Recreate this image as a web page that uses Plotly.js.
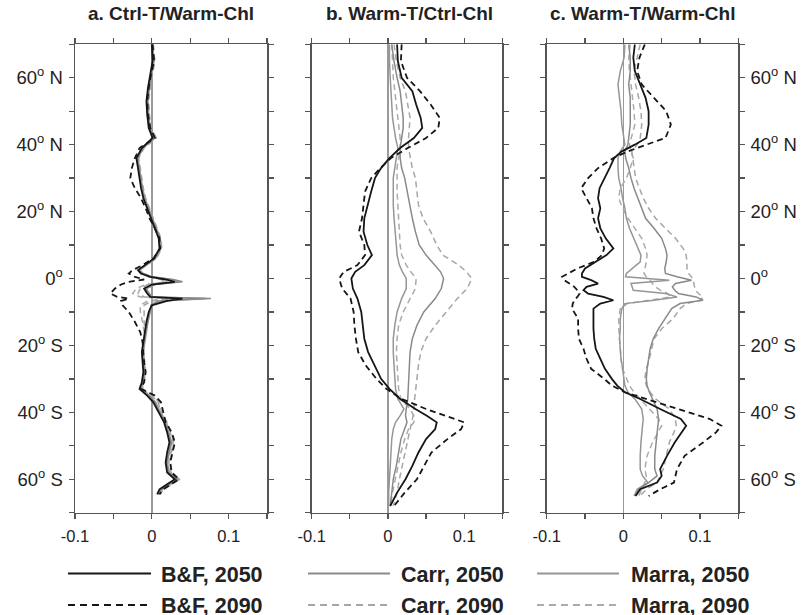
<!DOCTYPE html>
<html>
<head>
<meta charset="utf-8">
<script src="https://cdn.plot.ly/plotly-3.0.1.min.js"></script>
<style>html,body{margin:0;padding:0;background:#fff;}#chart{width:807px;height:615px;}</style>
</head>
<body>
<div id="chart"></div>
<script>
// ---------- DATA ----------
var panelTitles = ["a. Ctrl-T/Warm-Chl", "b. Warm-T/Ctrl-Chl", "c. Warm-T/Warm-Chl"];
var seriesNames = ["B&F, 2050", "B&F, 2090", "Carr, 2050", "Carr, 2090", "Marra, 2050", "Marra, 2090"];
var xTickVals = [-0.1, -0.05, 0, 0.05, 0.1, 0.15];
var xTickText = ["-0.1", "", "0", "", "0.1", ""];
var yTickVals = [-70, -60, -50, -40, -30, -20, -10, 0, 10, 20, 30, 40, 50, 60, 70];
var yTickText = ["", "60<sup>o</sup> S", "", "40<sup>o</sup> S", "", "20<sup>o</sup> S", "", "0<sup>o</sup>", "", "20<sup>o</sup> N", "", "40<sup>o</sup> N", "", "60<sup>o</sup> N", ""];

// Panel a: Ctrl-T/Warm-Chl
var latA = [70, 65, 61, 57, 53, 49, 45, 42, 39, 36, 33, 30, 27, 24, 21, 18, 15, 12, 9, 6, 4, 2.5, 1.5, 0.5, -0.3, -1, -1.8, -3, -4.5, -5.5, -6, -6.7, -8, -10, -13, -16, -19, -22, -25, -28, -31, -33, -35, -37, -40, -43, -46, -49, -52, -55, -58, -60, -61.5, -63, -64.5];
var aBF2050 = [0.000, 0.001, -0.002, -0.005, -0.007, -0.006, -0.004, 0.001, -0.013, -0.020, -0.018, -0.016, -0.014, -0.011, -0.006, -0.002, 0.004, 0.009, 0.010, 0.003, -0.009, -0.018, -0.014, -0.002, 0.018, 0.030, 0.000, -0.010, -0.006, -0.002, 0.040, 0.020, 0.000, -0.004, -0.007, -0.009, -0.011, -0.013, -0.012, -0.011, -0.013, -0.016, -0.006, 0.002, 0.009, 0.016, 0.020, 0.023, 0.020, 0.018, 0.020, 0.030, 0.020, 0.010, 0.007];
var aBF2090 = [0.001, 0.003, -0.001, -0.004, -0.006, -0.005, -0.002, 0.004, -0.016, -0.022, -0.026, -0.028, -0.022, -0.014, -0.008, -0.003, 0.004, 0.010, 0.011, 0.002, -0.012, -0.025, -0.030, -0.022, -0.010, -0.030, -0.040, -0.048, -0.054, -0.045, -0.030, -0.040, -0.038, -0.030, -0.022, -0.015, -0.012, -0.011, -0.010, -0.008, -0.010, -0.014, 0.004, 0.012, 0.015, 0.018, 0.026, 0.030, 0.027, 0.024, 0.026, 0.035, 0.025, 0.015, 0.010];
var aCarr2050 = [0.000, 0.002, -0.001, -0.004, -0.006, -0.005, -0.003, 0.003, -0.012, -0.019, -0.017, -0.015, -0.013, -0.010, -0.005, -0.001, 0.005, 0.010, 0.011, 0.004, -0.008, -0.017, -0.012, 0.000, 0.028, 0.040, 0.003, -0.008, -0.004, 0.000, 0.077, 0.008, -0.001, -0.003, -0.006, -0.008, -0.010, -0.012, -0.011, -0.010, -0.012, -0.015, -0.004, 0.004, 0.010, 0.017, 0.021, 0.025, 0.022, 0.019, 0.022, 0.033, 0.022, 0.012, 0.008];
var aCarr2090 = [0.001, 0.003, 0.000, -0.003, -0.005, -0.004, -0.002, 0.005, -0.011, -0.018, -0.016, -0.014, -0.012, -0.009, -0.004, 0.000, 0.006, 0.011, 0.012, 0.005, -0.008, -0.018, -0.015, -0.004, 0.015, 0.020, -0.005, -0.015, -0.018, -0.010, 0.030, 0.000, -0.010, -0.010, -0.010, -0.009, -0.011, -0.012, -0.010, -0.009, -0.011, -0.013, 0.000, 0.008, 0.012, 0.019, 0.024, 0.028, 0.025, 0.022, 0.025, 0.036, 0.025, 0.014, 0.010];
var aMarra2050 = [0.001, 0.003, 0.000, -0.003, -0.005, -0.004, -0.002, 0.004, -0.011, -0.018, -0.016, -0.014, -0.012, -0.009, -0.004, 0.000, 0.006, 0.011, 0.012, 0.005, -0.007, -0.016, -0.011, 0.001, 0.024, 0.036, 0.004, -0.007, -0.003, 0.001, 0.070, 0.012, 0.000, -0.002, -0.005, -0.007, -0.009, -0.011, -0.010, -0.009, -0.011, -0.014, -0.003, 0.005, 0.011, 0.018, 0.022, 0.026, 0.023, 0.020, 0.023, 0.034, 0.023, 0.013, 0.009];
var aMarra2090 = [0.002, 0.004, 0.001, -0.002, -0.004, -0.003, -0.001, 0.006, -0.010, -0.017, -0.015, -0.013, -0.011, -0.008, -0.003, 0.001, 0.007, 0.012, 0.013, 0.006, -0.007, -0.016, -0.013, -0.003, 0.012, 0.018, -0.008, -0.020, -0.025, -0.015, 0.020, -0.005, -0.015, -0.015, -0.012, -0.010, -0.010, -0.011, -0.009, -0.008, -0.010, -0.012, 0.002, 0.009, 0.013, 0.020, 0.025, 0.029, 0.026, 0.023, 0.026, 0.037, 0.026, 0.015, 0.011];

// Panel b: Warm-T/Ctrl-Chl
var latB = [70, 65, 60, 56, 52, 48, 45, 42, 39, 36, 33, 30, 26, 22, 18, 14, 10, 7, 4, 2, 0, -3, -6, -10, -14, -18, -22, -26, -30, -33, -36, -39, -41, -43, -45, -48, -52, -56, -60, -64, -68];
var bBF2050 = [0.012, 0.013, 0.018, 0.032, 0.037, 0.043, 0.045, 0.034, 0.016, 0.002, -0.009, -0.017, -0.022, -0.027, -0.031, -0.032, -0.027, -0.021, -0.031, -0.043, -0.048, -0.046, -0.040, -0.035, -0.033, -0.031, -0.026, -0.018, -0.009, 0.002, 0.016, 0.036, 0.051, 0.064, 0.062, 0.050, 0.040, 0.032, 0.023, 0.012, 0.003];
var bBF2090 = [0.018, 0.017, 0.025, 0.042, 0.056, 0.068, 0.066, 0.050, 0.026, 0.004, -0.010, -0.022, -0.030, -0.032, -0.034, -0.038, -0.031, -0.030, -0.040, -0.058, -0.064, -0.060, -0.049, -0.045, -0.044, -0.042, -0.039, -0.029, -0.015, -0.002, 0.018, 0.050, 0.075, 0.100, 0.096, 0.078, 0.057, 0.047, 0.038, 0.022, 0.008];
var bCarr2050 = [0.005, 0.008, 0.012, 0.016, 0.018, 0.020, 0.020, 0.018, 0.016, 0.016, 0.018, 0.022, 0.025, 0.029, 0.032, 0.036, 0.041, 0.050, 0.062, 0.069, 0.073, 0.070, 0.062, 0.047, 0.038, 0.032, 0.029, 0.028, 0.027, 0.027, 0.026, 0.024, 0.023, 0.025, 0.022, 0.017, 0.014, 0.011, 0.007, 0.005, 0.003];
var bCarr2090 = [0.008, 0.011, 0.016, 0.023, 0.026, 0.029, 0.028, 0.027, 0.027, 0.029, 0.032, 0.036, 0.038, 0.040, 0.046, 0.056, 0.064, 0.072, 0.093, 0.103, 0.110, 0.104, 0.091, 0.076, 0.062, 0.050, 0.043, 0.040, 0.038, 0.036, 0.035, 0.034, 0.033, 0.031, 0.029, 0.026, 0.022, 0.019, 0.015, 0.012, 0.007];
var bMarra2050 = [0.002, 0.002, 0.003, 0.004, 0.005, 0.006, 0.008, 0.010, 0.013, 0.011, 0.009, 0.007, 0.007, 0.007, 0.008, 0.010, 0.011, 0.012, 0.015, 0.019, 0.024, 0.024, 0.018, 0.012, 0.009, 0.007, 0.007, 0.008, 0.009, 0.010, 0.013, 0.021, 0.016, 0.010, 0.007, 0.005, 0.004, 0.003, 0.002, 0.001, 0.001];
var bMarra2090 = [0.005, 0.006, 0.007, 0.009, 0.011, 0.013, 0.015, 0.016, 0.016, 0.014, 0.012, 0.012, 0.012, 0.013, 0.014, 0.015, 0.016, 0.018, 0.024, 0.030, 0.037, 0.036, 0.029, 0.020, 0.014, 0.012, 0.011, 0.012, 0.013, 0.014, 0.017, 0.029, 0.034, 0.034, 0.027, 0.022, 0.017, 0.013, 0.009, 0.006, 0.003];

// Panel c: Warm-T/Warm-Chl
var latC = [70, 66, 62, 58, 54, 50, 46, 42, 40, 38, 36, 33, 30, 27, 24, 21, 18, 15, 12, 9, 7, 5, 3, 1.5, 0.5, -0.5, -1.5, -2.5, -3.5, -4.5, -5.5, -6.5, -7.5, -9, -12, -15, -18, -21, -24, -27, -30, -32, -34, -36, -39, -42, -44, -46, -49, -53, -57, -59, -61, -63, -65];
var cBF2050 = [0.015, 0.013, 0.015, 0.022, 0.029, 0.033, 0.033, 0.030, 0.015, -0.002, -0.012, -0.018, -0.025, -0.031, -0.033, -0.030, -0.033, -0.030, -0.023, -0.013, -0.022, -0.036, -0.050, -0.054, -0.054, -0.042, -0.033, -0.048, -0.052, -0.046, -0.026, -0.013, -0.030, -0.039, -0.039, -0.039, -0.038, -0.036, -0.030, -0.024, -0.015, -0.008, 0.002, 0.022, 0.048, 0.075, 0.082, 0.076, 0.067, 0.057, 0.048, 0.050, 0.044, 0.022, 0.016];
var cBF2090 = [0.028, 0.021, 0.018, 0.024, 0.040, 0.056, 0.062, 0.055, 0.030, 0.006, -0.013, -0.033, -0.046, -0.055, -0.048, -0.041, -0.039, -0.035, -0.029, -0.025, -0.028, -0.038, -0.060, -0.072, -0.080, -0.077, -0.070, -0.064, -0.060, -0.057, -0.060, -0.064, -0.066, -0.067, -0.059, -0.059, -0.058, -0.052, -0.048, -0.042, -0.025, -0.015, 0.002, 0.030, 0.074, 0.113, 0.128, 0.121, 0.104, 0.080, 0.070, 0.068, 0.066, 0.048, 0.033];
var cCarr2050 = [0.007, 0.009, 0.009, 0.007, 0.009, 0.009, 0.009, 0.007, 0.006, 0.002, 0.003, 0.007, 0.010, 0.014, 0.019, 0.023, 0.029, 0.040, 0.050, 0.055, 0.057, 0.056, 0.054, 0.055, 0.070, 0.089, 0.068, 0.064, 0.067, 0.072, 0.095, 0.104, 0.074, 0.063, 0.054, 0.046, 0.039, 0.035, 0.033, 0.031, 0.030, 0.031, 0.034, 0.038, 0.044, 0.046, 0.045, 0.044, 0.042, 0.041, 0.041, 0.044, 0.033, 0.020, 0.015];
var cCarr2090 = [0.022, 0.018, 0.014, 0.016, 0.020, 0.023, 0.024, 0.022, 0.018, 0.011, 0.012, 0.014, 0.016, 0.021, 0.026, 0.033, 0.042, 0.055, 0.068, 0.078, 0.082, 0.083, 0.083, 0.085, 0.089, 0.091, 0.092, 0.093, 0.094, 0.098, 0.104, 0.100, 0.082, 0.074, 0.065, 0.050, 0.040, 0.037, 0.034, 0.030, 0.028, 0.030, 0.035, 0.042, 0.060, 0.068, 0.069, 0.066, 0.060, 0.056, 0.052, 0.048, 0.044, 0.030, 0.022];
var cMarra2050 = [0.002, 0.001, -0.004, -0.007, -0.005, -0.003, -0.002, 0.001, 0.002, -0.004, -0.007, -0.007, -0.006, -0.003, -0.001, 0.002, 0.004, 0.008, 0.014, 0.020, 0.023, 0.022, 0.012, 0.004, 0.003, 0.060, 0.010, 0.012, 0.013, 0.055, 0.070, 0.040, 0.002, -0.002, -0.004, -0.004, -0.005, -0.004, -0.003, -0.001, 0.001, 0.002, 0.006, 0.015, 0.024, 0.026, 0.025, 0.024, 0.023, 0.022, 0.022, 0.025, 0.032, 0.018, 0.014];
var cMarra2090 = [0.009, 0.007, 0.008, 0.010, 0.012, 0.014, 0.015, 0.011, 0.008, 0.010, 0.013, 0.009, 0.004, -0.004, -0.006, -0.001, 0.006, 0.015, 0.024, 0.029, 0.031, 0.030, 0.028, 0.027, 0.030, 0.035, 0.038, 0.042, 0.048, 0.058, 0.062, 0.030, 0.005, -0.004, -0.006, -0.006, -0.005, -0.004, -0.003, -0.001, 0.004, 0.008, 0.014, 0.022, 0.034, 0.046, 0.050, 0.045, 0.038, 0.031, 0.028, 0.030, 0.028, 0.024, 0.020];

// ---------- STYLES ----------
var W = 807, H = 615;
var styles = {
  "B&F, 2050":   {color: "#161616", dash: "solid",     width: 1.8},
  "B&F, 2090":   {color: "#161616", dash: "6px,4px",   width: 1.8},
  "Carr, 2050":  {color: "#8a8a8a", dash: "solid",     width: 1.5},
  "Carr, 2090":  {color: "#a6a6a6", dash: "6px,4px",   width: 1.5},
  "Marra, 2050": {color: "#969696", dash: "solid",     width: 1.5},
  "Marra, 2090": {color: "#ababab", dash: "6px,4px",   width: 1.5}
};
var panels = [
  {lat: latA, s: {"B&F, 2050": aBF2050, "B&F, 2090": aBF2090, "Carr, 2050": aCarr2050, "Carr, 2090": aCarr2090, "Marra, 2050": aMarra2050, "Marra, 2090": aMarra2090}},
  {lat: latB, s: {"B&F, 2050": bBF2050, "B&F, 2090": bBF2090, "Carr, 2050": bCarr2050, "Carr, 2090": bCarr2090, "Marra, 2050": bMarra2050, "Marra, 2090": bMarra2090}},
  {lat: latC, s: {"B&F, 2050": cBF2050, "B&F, 2090": cBF2090, "Carr, 2050": cCarr2050, "Carr, 2090": cCarr2090, "Marra, 2050": cMarra2050, "Marra, 2090": cMarra2090}}
];
var drawOrder = ["Marra, 2090", "Carr, 2090", "Marra, 2050", "Carr, 2050", "B&F, 2090", "B&F, 2050"];

var traces = [];
panels.forEach(function (p, i) {
  var sx = i === 0 ? "x" : "x" + (i + 1);
  var sy = i === 0 ? "y" : "y" + (i + 1);
  drawOrder.forEach(function (name) {
    var st = styles[name];
    traces.push({
      type: "scatter", mode: "lines", name: name, showlegend: false,
      x: p.s[name], y: p.lat, xaxis: sx, yaxis: sy,
      line: {color: st.color, dash: st.dash, width: st.width},
      hoverinfo: "skip"
    });
  });
});

// ---------- LAYOUT ----------
var px = function (v) { return v / W; };
var py = function (v) { return (H - v) / H; };
var xDomains = [[px(75), px(267)], [px(311.7), px(502.3)], [px(546.7), px(738.3)]];
var yDomain = [py(512.7), py(44.3)];
var font = "Liberation Sans, Arial, Helvetica, sans-serif";

function xAxis(i) {
  return {
    domain: xDomains[i], range: [-0.1, 0.15], anchor: i === 0 ? "y" : "y" + (i + 1),
    tickmode: "array", tickvals: xTickVals, ticktext: xTickText,
    ticks: "outside", ticklen: 5, tickwidth: 1.3, tickcolor: "#555",
    showline: true, linecolor: "#555", linewidth: 1.5, mirror: "ticks",
    showgrid: false, zeroline: true, zerolinecolor: "#9a9a9a", zerolinewidth: 1.6,
    tickfont: {family: font, size: 16.5, color: "#222"}, ticklabelstandoff: 3,
    fixedrange: true
  };
}
function yAxis(i) {
  return {
    domain: yDomain, range: [-70, 70], anchor: i === 0 ? "x" : "x" + (i + 1),
    tickmode: "array", tickvals: yTickVals, ticktext: yTickText,
    ticks: "outside", ticklen: 5, tickwidth: 1.3, tickcolor: "#555",
    showline: true, linecolor: "#555", linewidth: 1.5, mirror: "ticks",
    showgrid: false, zeroline: false,
    showticklabels: i !== 1, side: i === 2 ? "right" : "left",
    tickfont: {family: font, size: 18.5, color: "#222"}, ticklabelstandoff: 2,
    fixedrange: true
  };
}

var annotations = [];
var titleX = [171, 409, 642.5];
panelTitles.forEach(function (t, i) {
  annotations.push({
    text: "<b>" + t + "</b>", xref: "paper", yref: "paper",
    x: px(titleX[i]), y: py(14), xanchor: "center", yanchor: "middle",
    showarrow: false, font: {family: font, size: 19, color: "#222"}
  });
});

// Legend: three columns, two rows
var legCols = [
  {names: ["B&F, 2050", "B&F, 2090"], x0: 68, x1: 151, tx: 159},
  {names: ["Carr, 2050", "Carr, 2090"], x0: 308, x1: 390, tx: 399},
  {names: ["Marra, 2050", "Marra, 2090"], x0: 537, x1: 619, tx: 629}
];
var rowY = [573.5, 605];
var shapes = [];
legCols.forEach(function (c) {
  c.names.forEach(function (name, r) {
    var st = styles[name];
    shapes.push({
      type: "line", xref: "paper", yref: "paper",
      x0: px(c.x0), x1: px(c.x1), y0: py(rowY[r]), y1: py(rowY[r]),
      line: {color: st.color, width: 2, dash: st.dash === "solid" ? "solid" : "7px,5px"}
    });
    annotations.push({
      text: "<b>" + name + "</b>", xref: "paper", yref: "paper",
      x: px(c.tx), y: py(rowY[r] + 1), xanchor: "left", yanchor: "middle",
      showarrow: false, font: {family: font, size: 21.5, color: "#222"}
    });
  });
});

var layout = {
  width: W, height: H,
  margin: {l: 0, r: 0, t: 0, b: 0, pad: 0},
  paper_bgcolor: "#fff", plot_bgcolor: "#fff",
  showlegend: false,
  xaxis: xAxis(0), xaxis2: xAxis(1), xaxis3: xAxis(2),
  yaxis: yAxis(0), yaxis2: yAxis(1), yaxis3: yAxis(2),
  annotations: annotations, shapes: shapes
};

Plotly.newPlot("chart", traces, layout, {staticPlot: true, displayModeBar: false});
</script>
</body>
</html>
